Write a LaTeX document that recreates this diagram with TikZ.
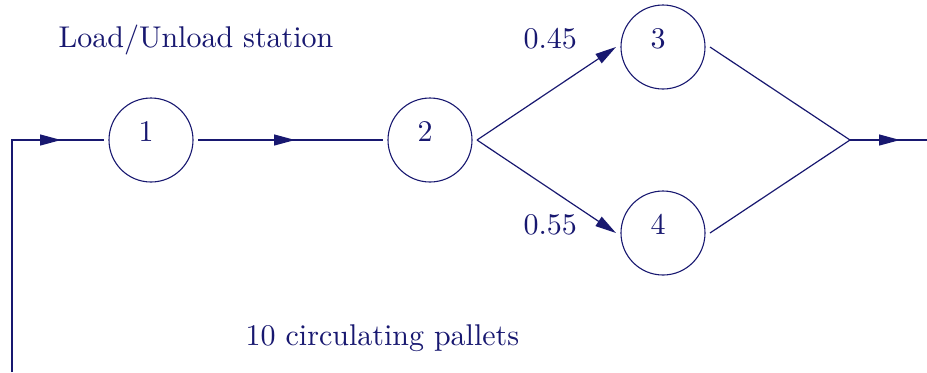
\documentclass[tikz,border=0pt]{standalone}
\usepackage{fontspec}
\setmainfont{lmroman10-regular}[Extension=.otf]
\usetikzlibrary{arrows.meta,decorations.markings}
\definecolor{navy}{RGB}{24,24,112}
\begin{document}
\begin{tikzpicture}[x=0.5pt,y=-0.5pt,
  line width=0.6pt, draw=navy, color=navy,
  tip/.tip={Triangle[length=10.5pt,width=5.5pt]},
  stn/.style={circle, draw=navy, line width=0.55pt, minimum size=42pt, inner sep=0pt, outer sep=2.5pt},
  txt/.style={font=\fontsize{15}{18}\selectfont, text=navy, inner sep=0pt, anchor=base west},
  num/.style={font=\fontsize{15}{18}\selectfont, text=navy, inner sep=0pt, anchor=base},
  midarrow/.style={postaction={decorate}, decoration={markings, mark=at position #1 with {\arrow{tip}}}}
]
\useasboundingbox (0,0) rectangle (927,372);

\node[stn] (n1) at (151,140) {};
\node[stn] (n2) at (430,140) {};
\node[stn] (n3) at (663,47) {};
\node[stn] (n4) at (663,233) {};
\node[num] (l1) at (146,141) {1};
\node[num] (l2) at (425,141) {2};
\node[num] (l3) at (658,48) {3};
\node[num] (l4) at (658,234) {4};

\coordinate (s) at (12,372);
\coordinate (j) at (850,140);
\coordinate (e) at (927,140);

\node[txt] (load) at (58,47) {Load/Unload station};
\node[txt] (p45) at (523,48) {0.45};
\node[txt] (p55) at (523,234) {0.55};
\node[txt] (pal) at (245,345) {10 circulating pallets};

\draw[midarrow=140.5pt] (s) |- (n1.west);
\draw[midarrow=48.5pt] (n1.east) -- (n2.west);
\draw[-tip] (n2.east) -- (n3.west);
\draw[-tip] (n2.east) -- (n4.west);
\draw (n3.east) -- (j);
\draw (n4.east) -- (j);
\draw[midarrow=25pt] (j) -- (e);
\end{tikzpicture}
\end{document}
